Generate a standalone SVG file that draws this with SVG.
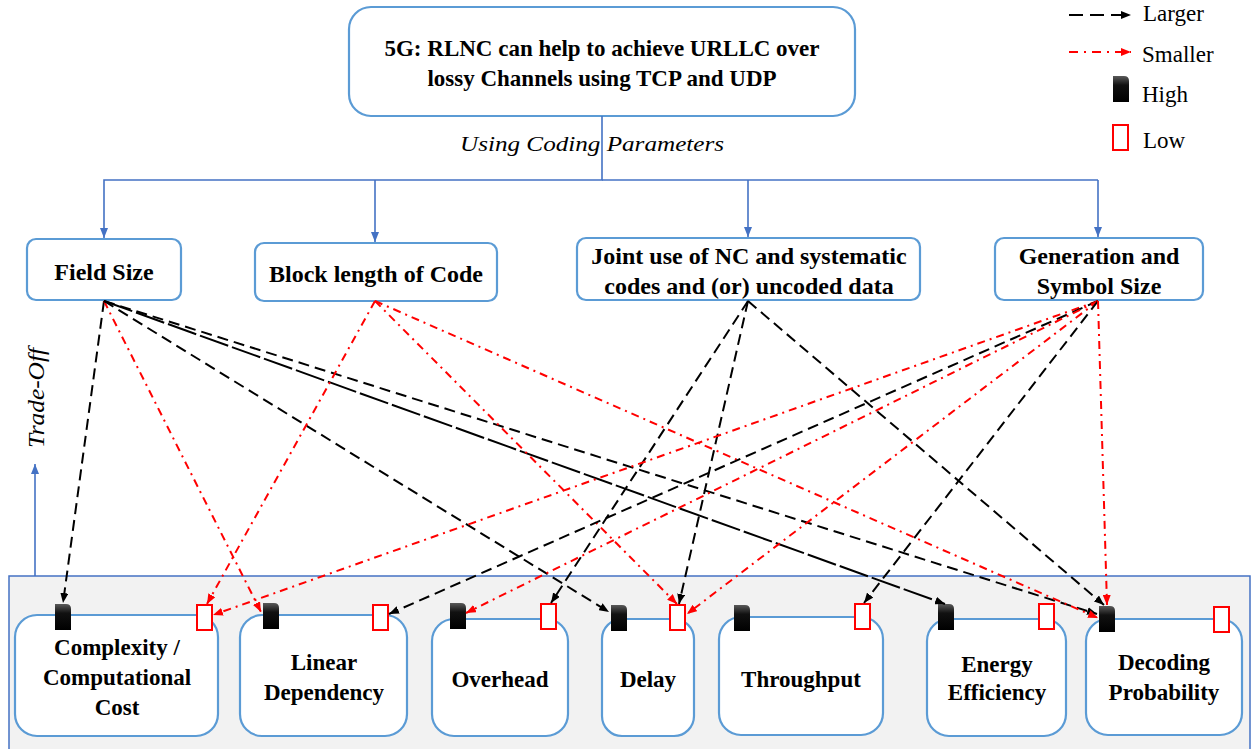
<svg xmlns="http://www.w3.org/2000/svg" width="1251" height="749" viewBox="0 0 1251 749">
  <style>
    .box { fill: #FFFFFF; stroke: #5B9BD5; stroke-width: 2.2; }
    .t { font-family: "Liberation Serif", "Times New Roman", serif; fill: #000; }
    .tb { font-family: "Liberation Serif", "Times New Roman", serif; font-weight: bold; fill: #000; }
    .ti { font-family: "Liberation Serif", "Times New Roman", serif; font-style: italic; fill: #000; }
    .tree { fill: none; stroke: #4472C4; stroke-width: 1.6; }
    .big { stroke: #000; stroke-width: 2; fill: none; stroke-dasharray: 11 6; }
    .bigl { stroke: #000; stroke-width: 2; fill: none; stroke-dasharray: 30 4; }
    .sml { stroke: #FF0000; stroke-width: 2; fill: none; stroke-dasharray: 8 5 2 5; }
    .lo { fill: #FFFFFF; stroke: #FF0000; stroke-width: 2; }
    .hi { fill: url(#hiGrad); }
  </style>
  <defs>
    <linearGradient id="hiGrad" x1="0" y1="0" x2="0" y2="1">
      <stop offset="0" stop-color="#5a5a5a"/>
      <stop offset="0.35" stop-color="#111"/>
      <stop offset="1" stop-color="#000"/>
    </linearGradient>
    <marker id="arB" viewBox="0 0 10 8" refX="10" refY="4" markerWidth="10" markerHeight="8" markerUnits="userSpaceOnUse" orient="auto">
      <path d="M0,0 L10,4 L0,8 z" fill="#000"/>
    </marker>
    <marker id="arR" viewBox="0 0 10 8" refX="10" refY="4" markerWidth="10" markerHeight="8" markerUnits="userSpaceOnUse" orient="auto">
      <path d="M0,0 L10,4 L0,8 z" fill="#FF0000"/>
    </marker>
    <marker id="arU" viewBox="0 0 10 8" refX="10" refY="4" markerWidth="10" markerHeight="8" markerUnits="userSpaceOnUse" orient="auto">
      <path d="M0,0 L10,4 L0,8 z" fill="#4472C4"/>
    </marker>
    <path id="hiMark" d="M0,0 H11 Q16,0 16,5 V26 H0 Z"/>
  </defs>

  <rect width="1251" height="749" fill="#FFFFFF"/>

  <!-- shared panel holding the metrics -->
  <rect x="9" y="576" width="1241" height="180" fill="#F2F2F2" stroke="#4472C4" stroke-width="1.5"/>

  <!-- legend -->
  <g id="legend">
    <line x1="1069" y1="15" x2="1131" y2="15" stroke="#000" stroke-width="2" stroke-dasharray="14 7" marker-end="url(#arB)"/>
    <text class="t" x="1143" y="21" font-size="23">Larger</text>
    <line x1="1069" y1="52" x2="1131" y2="52" stroke="#FF0000" stroke-width="2" stroke-dasharray="9 6 2 6" marker-end="url(#arR)"/>
    <text class="t" x="1142" y="62" font-size="23">Smaller</text>
    <use href="#hiMark" x="1113" y="76" class="hi"/>
    <text class="t" x="1142" y="102" font-size="23">High</text>
    <rect x="1113" y="125" width="15" height="25" class="lo"/>
    <text class="t" x="1143" y="148" font-size="23">Low</text>
  </g>

  <!-- root -->
  <g id="root">
    <rect x="349" y="7" width="506" height="109" rx="22" class="box"/>
    <text class="tb" x="602" y="56" font-size="23" text-anchor="middle">5G: RLNC can help to achieve URLLC over</text>
    <text class="tb" x="602" y="86" font-size="23" text-anchor="middle">lossy Channels using TCP and UDP</text>
  </g>

  <!-- tree from root to the coding parameters -->
  <g id="tree">
    <polyline class="tree" points="602,116 602,180 104,180 104,238" marker-end="url(#arU)"/>
    <line class="tree" x1="375" y1="180" x2="375" y2="242" marker-end="url(#arU)"/>
    <line class="tree" x1="602" y1="180" x2="1098" y2="180"/>
    <line class="tree" x1="748" y1="180" x2="748" y2="237" marker-end="url(#arU)"/>
    <line class="tree" x1="1098" y1="180" x2="1098" y2="237" marker-end="url(#arU)"/>
    <text class="ti" x="592" y="151" font-size="22" text-anchor="middle" textLength="264" lengthAdjust="spacingAndGlyphs">Using Coding Parameters</text>
  </g>

  <!-- coding parameters -->
  <g id="field-size">
    <rect x="27" y="239" width="154" height="61" rx="9" class="box"/>
    <text class="tb" x="104" y="280" font-size="24" text-anchor="middle">Field Size</text>
  </g>
  <g id="block-length">
    <rect x="255" y="243" width="242" height="58" rx="9" class="box"/>
    <text class="tb" x="376" y="282" font-size="24" text-anchor="middle">Block length of Code</text>
  </g>
  <g id="joint-use">
    <rect x="577" y="238" width="343" height="62" rx="9" class="box"/>
    <text class="tb" x="749" y="264" font-size="24" text-anchor="middle">Joint use of NC and systematic</text>
    <text class="tb" x="749" y="294" font-size="24" text-anchor="middle">codes and (or) uncoded data</text>
  </g>
  <g id="generation-size">
    <rect x="995" y="238" width="208" height="62" rx="9" class="box"/>
    <text class="tb" x="1099" y="264" font-size="24" text-anchor="middle">Generation and</text>
    <text class="tb" x="1099" y="294" font-size="24" text-anchor="middle">Symbol Size</text>
  </g>

  <!-- trade-off axis -->
  <g id="trade-off">
    <line class="tree" x1="35" y1="576" x2="35" y2="464" marker-end="url(#arU)"/>
    <text class="ti" transform="translate(44,398) rotate(-90)" font-size="23" text-anchor="middle" textLength="100" lengthAdjust="spacingAndGlyphs">Trade-Off</text>
  </g>

  <!-- metrics -->
  <g id="complexity">
    <rect x="15" y="615" width="203" height="121" rx="22" class="box"/>
    <text class="tb" x="117" y="655" font-size="23" text-anchor="middle">Complexity /</text>
    <text class="tb" x="117" y="685" font-size="23" text-anchor="middle">Computational</text>
    <text class="tb" x="117" y="715" font-size="23" text-anchor="middle">Cost</text>
    <use href="#hiMark" x="55" y="604" class="hi"/>
    <rect x="197" y="605" width="15" height="25" class="lo"/>
  </g>
  <g id="linear-dependency">
    <rect x="240" y="615" width="167" height="121" rx="22" class="box"/>
    <text class="tb" x="324" y="670" font-size="23" text-anchor="middle">Linear</text>
    <text class="tb" x="324" y="700" font-size="23" text-anchor="middle">Dependency</text>
    <use href="#hiMark" x="263" y="603" class="hi"/>
    <rect x="373" y="605" width="15" height="25" class="lo"/>
  </g>
  <g id="overhead">
    <rect x="432" y="619" width="136" height="117" rx="22" class="box"/>
    <text class="tb" x="500" y="687" font-size="23" text-anchor="middle">Overhead</text>
    <use href="#hiMark" x="450" y="603" class="hi"/>
    <rect x="541" y="604" width="15" height="25" class="lo"/>
  </g>
  <g id="delay">
    <rect x="602" y="619" width="92" height="117" rx="20" class="box"/>
    <text class="tb" x="648" y="687" font-size="23" text-anchor="middle">Delay</text>
    <use href="#hiMark" x="611" y="605" class="hi"/>
    <rect x="670" y="605" width="15" height="25" class="lo"/>
  </g>
  <g id="throughput">
    <rect x="719" y="617" width="164" height="118" rx="22" class="box"/>
    <text class="tb" x="801" y="687" font-size="23" text-anchor="middle">Throughput</text>
    <use href="#hiMark" x="734" y="605" class="hi"/>
    <rect x="855" y="604" width="15" height="25" class="lo"/>
  </g>
  <g id="energy-efficiency">
    <rect x="927" y="619" width="139" height="117" rx="22" class="box"/>
    <text class="tb" x="997" y="672" font-size="23" text-anchor="middle">Energy</text>
    <text class="tb" x="997" y="700" font-size="23" text-anchor="middle">Efficiency</text>
    <use href="#hiMark" x="938" y="604" class="hi"/>
    <rect x="1039" y="604" width="15" height="25" class="lo"/>
  </g>
  <g id="decoding-probability">
    <rect x="1086" y="619" width="156" height="116" rx="22" class="box"/>
    <text class="tb" x="1164" y="670" font-size="23" text-anchor="middle">Decoding</text>
    <text class="tb" x="1164" y="700" font-size="23" text-anchor="middle">Probability</text>
    <use href="#hiMark" x="1099" y="606" class="hi"/>
    <rect x="1214" y="607" width="15" height="25" class="lo"/>
  </g>

  <!-- parameter-to-metric connectors -->
  <g id="connectors">
    <!-- Field Size -->
    <line class="big" x1="104" y1="301" x2="63" y2="603" marker-end="url(#arB)"/>
    <line class="sml" x1="104" y1="301" x2="261" y2="612" marker-end="url(#arR)"/>
    <line class="big" x1="104" y1="301" x2="609" y2="612" marker-end="url(#arB)"/>
    <line class="bigl" x1="104" y1="301" x2="945" y2="604" marker-end="url(#arB)"/>
    <line class="big" x1="104" y1="301" x2="1097" y2="614" marker-end="url(#arB)"/>
    <!-- Block length -->
    <line class="sml" x1="375" y1="301" x2="207" y2="604" marker-end="url(#arR)"/>
    <line class="sml" x1="375" y1="301" x2="677" y2="604" marker-end="url(#arR)"/>
    <line class="sml" x1="375" y1="301" x2="1098" y2="618" marker-end="url(#arR)"/>
    <!-- Joint use -->
    <line class="big" x1="748" y1="301" x2="551" y2="603" marker-end="url(#arB)"/>
    <line class="big" x1="748" y1="301" x2="679" y2="604" marker-end="url(#arB)"/>
    <line class="big" x1="748" y1="301" x2="1104" y2="605" marker-end="url(#arB)"/>
    <!-- Generation and symbol size -->
    <line class="sml" x1="1098" y1="301" x2="213" y2="615" marker-end="url(#arR)"/>
    <line class="big" x1="1098" y1="301" x2="389" y2="614" marker-end="url(#arB)"/>
    <line class="sml" x1="1098" y1="301" x2="466" y2="613" marker-end="url(#arR)"/>
    <line class="sml" x1="1098" y1="301" x2="687" y2="614" marker-end="url(#arR)"/>
    <line class="big" x1="1098" y1="301" x2="864" y2="603" marker-end="url(#arB)"/>
    <line class="sml" x1="1098" y1="301" x2="1107" y2="605" marker-end="url(#arR)"/>
  </g>
</svg>
